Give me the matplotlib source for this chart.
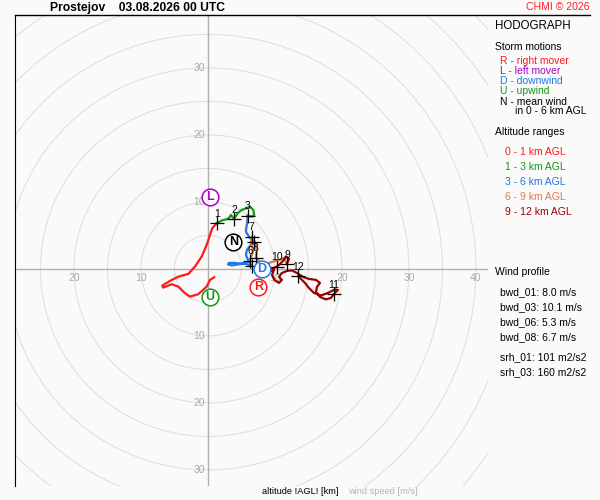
import numpy as np
import matplotlib.pyplot as plt
from matplotlib.lines import Line2D

plt.rcParams['font.family'] = ['Liberation Sans', 'DejaVu Sans']

# wind hodograph, u / v in m/s, split by altitude range
u_0_1 = [0.94, 0.30, -0.19, -1.45, -2.69, -3.43, -4.43, -5.42, -6.67, -6.82, -5.67,
         -4.43, -2.94, -1.94, -0.94, -0.19, 0.30, 0.64, 1.30]
v_0_1 = [-1.24, -1.64, -2.64, -3.78, -4.13, -3.63, -2.64, -2.28, -2.79, -2.49, -1.79,
         -1.15, -0.75, 0.34, 1.84, 3.58, 5.07, 6.07, 6.82]
u_1_3 = [1.30, 2.09, 2.69, 3.13, 3.43, 3.88, 4.43, 5.03, 5.78, 6.27, 6.76, 6.91, 6.52, 5.93]
v_1_3 = [6.82, 7.24, 7.39, 7.57, 8.06, 7.46, 8.31, 8.81, 9.06, 9.30, 8.81, 8.06, 7.81, 7.96]
u_3_6 = [5.93, 5.87, 5.72, 5.67, 6.27, 6.87, 6.27, 5.82, 5.67, 5.97, 6.52, 5.67, 4.78,
         3.88, 3.13, 2.99, 3.58, 4.48, 5.37, 6.27]
v_3_6 = [7.96, 7.01, 6.12, 5.52, 4.63, 4.07, 3.43, 2.84, 2.09, 1.34, 0.45, 0.75, 0.82,
         0.90, 0.90, 0.67, 0.52, 0.67, 0.82, 1.24]
u_6_9 = [6.27, 6.57, 6.72, 6.42, 6.52, 6.87, 7.16, 7.31, 7.16, 7.76, 8.66, 9.55, 10.60,
         11.34, 11.79]
v_6_9 = [1.24, 2.09, 2.99, 3.73, 4.82, 4.33, 3.58, 2.84, 1.69, 1.04, 0.75, 1.04, 1.34,
         1.64, 0.75]
u_9_12 = [11.79, 12.09, 11.64, 11.19, 10.60, 10.25, 9.55, 8.96, 8.58, 9.25, 9.85, 9.55,
          10.00, 10.60, 11.04, 10.60, 11.04, 11.79, 12.54, 13.28, 14.18, 15.07, 16.12,
          16.72, 16.27, 16.12, 16.72, 17.61, 18.36, 18.81, 19.40, 18.96, 17.91, 16.87,
          15.82, 15.07, 14.48, 13.88, 13.48]
v_9_12 = [0.75, 1.49, 1.87, 1.19, 0.60, 0.34, 0.00, -0.60, -1.12, -0.37, -0.15, -0.90,
          -1.72, -2.09, -1.64, -1.19, -0.60, -0.30, -0.22, -0.60, -1.19, -1.49, -1.64,
          -2.09, -2.69, -3.43, -4.18, -4.55, -4.33, -3.73, -3.13, -3.06, -3.58, -3.96,
          -3.58, -2.84, -2.09, -1.49, -1.09]

# wind at each km level
km_u = [1.30, 3.88, 5.93, 6.87, 6.52, 6.27, 6.52, 7.16, 11.79, 10.25, 18.81, 13.48]
km_v = [6.82, 7.46, 7.96, 4.07, 0.45, 1.24, 4.82, 1.69, 0.75, 0.34, -3.73, -1.09]
km_labels = ['1', '2', '3', '', '', '6', '7', '8', '9', '10', '11', '12']

# storm motions
storm_names = ['R', 'L', 'D', 'U', 'N']
storm_u = [7.51, 0.30, 8.01, 0.30, 3.78]
storm_v = [-2.64, 10.70, 0.00, -4.22, 3.99]

C_RED = '#ff1a1a'
C_PURPLE = '#b000c0'
C_BLUE = '#2277e6'
C_GREEN = '#119911'
C_ORANGE = '#d97a4a'
C_DARKRED = '#9a0000'
storm_colors = [C_RED, C_PURPLE, C_BLUE, C_GREEN, 'black']

layers = [(u_0_1, v_0_1, C_RED), (u_1_3, v_1_3, C_GREEN), (u_3_6, v_3_6, C_BLUE),
          (u_6_9, v_6_9, C_ORANGE), (u_9_12, v_9_12, C_DARKRED)]

BG = '#fafafa'
fig = plt.figure(figsize=(6, 5), dpi=100, facecolor=BG)
ax = fig.add_axes([15 / 600, 14 / 500, 473 / 600, 471 / 500])
ax.set_facecolor(BG)
ax.set_xlim(-28.8, 41.8)
ax.set_ylim(-32.4, 37.9)
ax.set_aspect('equal')
for s in ax.spines.values():
    s.set_visible(False)
ax.spines['left'].set_visible(True)
ax.spines['left'].set_color('black')
ax.set_xticks([])
ax.set_yticks([])

# speed rings
t = np.linspace(0, 2 * np.pi, 400)
for r in range(5, 65, 5):
    ax.plot(r * np.cos(t), r * np.sin(t), color='#e0e0e0', lw=0.8, zorder=1)
ax.axhline(0, color='#b0b0b0', lw=1, zorder=2)
ax.axvline(0, color='#b0b0b0', lw=1, zorder=2)

lab_kw = dict(color='#a8a8a8', fontsize=7.5, zorder=2)
for r in [10, 20, 30]:
    ax.annotate(str(r), (0, r), xytext=(-2, 0), textcoords='offset points',
                ha='right', va='center', **lab_kw)
    ax.annotate(str(r), (0, -r), xytext=(-2, 0), textcoords='offset points',
                ha='right', va='center', **lab_kw)
for r in [10, 20, 30, 40]:
    ax.annotate(str(r), (r, 0), xytext=(0, -3), textcoords='offset points',
                ha='center', va='top', **lab_kw)
for r in [10, 20]:
    ax.annotate(str(r), (-r, 0), xytext=(0, -3), textcoords='offset points',
                ha='center', va='top', **lab_kw)

for u, v, c in layers:
    ax.plot(u, v, color=c, lw=1.6, zorder=3, solid_joinstyle='round')

ax.plot(km_u, km_v, '+', color='black', ms=10, mew=0.9, zorder=4)
for x, y, s in zip(km_u, km_v, km_labels):
    ax.annotate(s, (x, y), xytext=(0, 3), textcoords='offset points',
                ha='center', va='bottom', fontsize=7.5, color='black', zorder=5)

for x, y, s, c in zip(storm_u, storm_v, storm_names, storm_colors):
    ax.plot(x, y, 'o', ms=12, mfc='white', mec=c, mew=1.1, zorder=6)
    ax.text(x, y, s, ha='center', va='center', fontsize=9, color=c,
            fontweight='bold', zorder=7)

# frame line on top
fig.add_artist(Line2D([15 / 600, 590 / 600], [1 - 15 / 500, 1 - 15 / 500],
                      color='black', lw=1))


def ftext(x, y, s, **kw):
    fig.text(x / 600, 1 - y / 500, s, va='center', **kw)


ftext(50, 8, 'Prostejov    03.08.2026 00 UTC', fontsize=8.7, fontweight='bold')
ftext(590, 7, 'CHMI \u00a9 2026', fontsize=7.6, color='#ff2020', ha='right')

ftext(495, 26, 'HODOGRAPH', fontsize=8.3)
ftext(495, 47, 'Storm motions', fontsize=7.5)
motion_text = ['R - right mover', 'L - left mover', 'D - downwind', 'U - upwind',
               'N - mean wind']
for i, (s, c) in enumerate(zip(motion_text, storm_colors)):
    ftext(500, 61.5 + 10 * i, s, fontsize=7.5, color=c)
ftext(515, 111.5, 'in 0 - 6 km AGL', fontsize=7.5)

ftext(495, 132, 'Altitude ranges', fontsize=7.5)
range_text = ['0 - 1 km AGL', '1 - 3 km AGL', '3 - 6 km AGL', '6 - 9 km AGL',
              '9 - 12 km AGL']
for i, (s, (_, _, c)) in enumerate(zip(range_text, layers)):
    ftext(505, 152 + 15 * i, s, fontsize=7.5, color=c)

ftext(495, 272, 'Wind profile', fontsize=7.5)
profile_text = ['bwd_01: 8.0 m/s', 'bwd_03: 10.1 m/s', 'bwd_06: 5.3 m/s',
                'bwd_08: 6.7 m/s']
for i, s in enumerate(profile_text):
    ftext(500, 292 + 15 * i, s, fontsize=7.5)
srh_text = ['srh_01: 101 m2/s2', 'srh_03: 160 m2/s2']
for i, s in enumerate(srh_text):
    ftext(500, 357 + 15 * i, s, fontsize=7.5)

ftext(262, 492, 'altitude !AGL! [km]', fontsize=6.7)
ftext(348, 492, 'wind speed [m/s]', fontsize=6.7, color='#b4b4b4')

fig.savefig('out.png', dpi=100, facecolor=BG)
